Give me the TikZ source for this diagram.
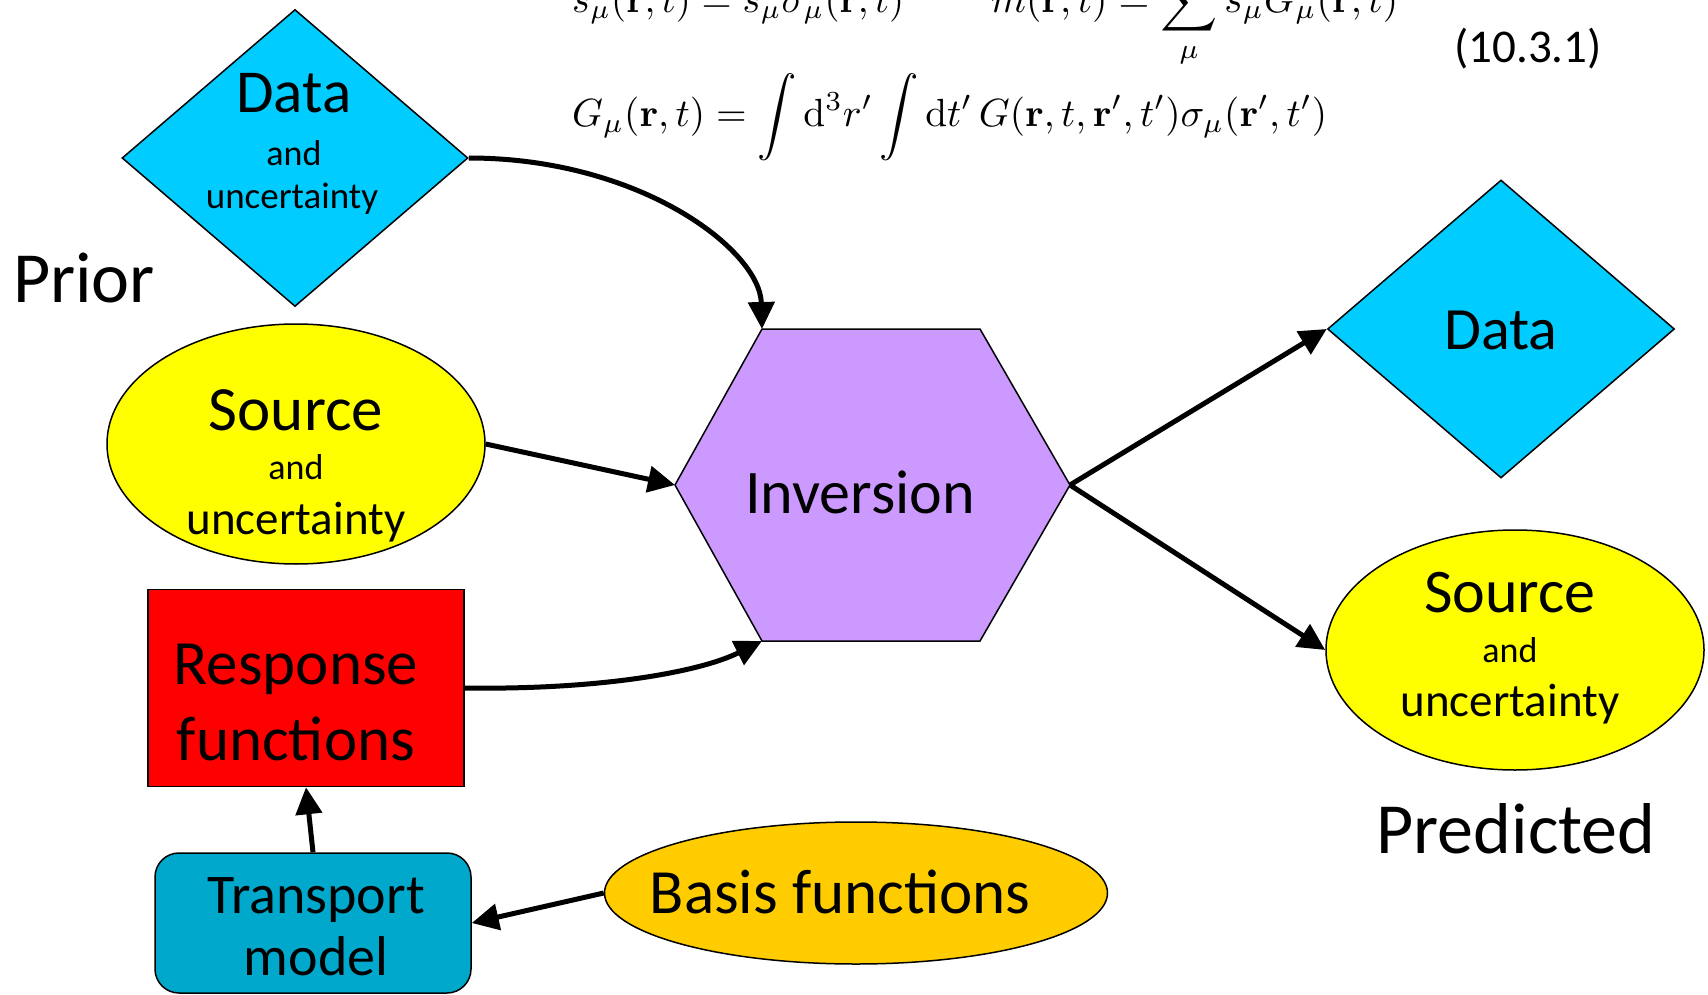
\documentclass[tikz,border=0pt]{standalone}
\usepackage[no-math]{fontspec}
\setmainfont{Carlito}
\usetikzlibrary{shapes.geometric,arrows.meta,calc}
\definecolor{dataC}{HTML}{00CCFF}
\definecolor{srcC}{HTML}{FFFF00}
\definecolor{respC}{HTML}{FF0000}
\definecolor{invC}{HTML}{CC99FF}
\definecolor{transC}{HTML}{00A8CC}
\definecolor{basisC}{HTML}{FFCC00}
\newcommand{\fsz}[1]{\fontsize{#1}{#1}\selectfont}
\begin{document}
\begin{tikzpicture}[x=1pt,y=-1pt,
  shapeline/.style={draw=black,line width=1.5pt,inner sep=0pt},
  conn/.style={line width=5pt,-{Triangle[length=27pt,width=26pt]}},
  txt/.style={anchor=base,inner sep=0pt},
  eqn/.style={anchor=base west,inner sep=0pt},
]
\useasboundingbox (0,0) rectangle (1708,995);
\clip (0,0) rectangle (1708,995);

% equations
\node[eqn] (eq1a) at (572,13) {\resizebox{332pt}{!}{$s_\mu(\mathbf{r},t)=s_\mu\sigma_\mu(\mathbf{r},t)$}};
\node[eqn] (eq1b) at (991,13) {\resizebox{407pt}{!}{$m(\mathbf{r},t)=\displaystyle\sum_{\mu}s_\mu G_\mu(\mathbf{r},t)$}};
\node[eqn] (eq2) at (572,127) {\resizebox{755pt}{!}{$\displaystyle G_\mu(\mathbf{r},t)=\int\mathrm{d}^3r'\int\mathrm{d}t'\,G(\mathbf{r},t,\mathbf{r}',t')\sigma_\mu(\mathbf{r}',t')$}};
\node[txt,font=\fsz{47}] (eqnum) at (1528,63) {(10.3.1)};

% shapes
\node[diamond,shapeline,fill=dataC,minimum width=346pt,minimum height=297pt] (dL) at (295,158) {};
\node[ellipse,shapeline,fill=srcC,minimum width=378pt,minimum height=240pt] (sL) at (296,444) {};
\node[rectangle,shapeline,fill=respC,minimum width=316pt,minimum height=197pt] (resp) at (306,688) {};
\node[rectangle,rounded corners=24pt,shapeline,fill=transC,minimum width=316pt,minimum height=140pt] (trans) at (313,923) {};
\node[ellipse,shapeline,fill=basisC,minimum width=503pt,minimum height=142pt] (basis) at (856,893) {};
\node[diamond,shapeline,fill=dataC,minimum width=347pt,minimum height=298pt] (dR) at (1501,329) {};
\node[ellipse,shapeline,fill=srcC,minimum width=378pt,minimum height=240pt] (sR) at (1515,650) {};

\coordinate (hL) at (675,485);
\coordinate (hTL) at (762,329);
\coordinate (hTR) at (980,329);
\coordinate (hR) at (1070,485);
\coordinate (hBR) at (980,641);
\coordinate (hBL) at (762,641);
\draw[line width=1.5pt,fill=invC] (hL) -- (hTL) -- (hTR) -- (hR) -- (hBR) -- (hBL) -- cycle;

% texts
\node[txt,font=\fsz{61}] (tDL1) at (294,113) {Data};
\node[txt,font=\fsz{36}] (tDL2) at (294,166) {and};
\node[txt,font=\fsz{37}] (tDL3) at (292,209) {uncertainty};
\node[txt,font=\fsz{63}] (tSL1) at (296,430) {Source};
\node[txt,font=\fsz{36}] (tSL2) at (296,479) {and};
\node[txt,font=\fsz{47}] (tSL3) at (296,534) {uncertainty};
\node[txt,font=\fsz{62}] (tInv) at (860,513) {Inversion};
\node[txt,font=\fsz{60}] (tDR) at (1501,349) {Data};
\node[txt,font=\fsz{62}] (tSR1) at (1510,612) {Source};
\node[txt,font=\fsz{36}] (tSR2) at (1510,662) {and};
\node[txt,font=\fsz{47}] (tSR3) at (1510,716) {uncertainty};
\node[txt,font=\fsz{63}] (tR1) at (296,684) {Response};
\node[txt,font=\fsz{63}] (tR2) at (296,760) {functions};
\node[txt,font=\fsz{56}] (tT1) at (316,913) {Transport};
\node[txt,font=\fsz{56}] (tT2) at (316,975) {model};
\node[txt,font=\fsz{63}] (tB) at (840,913) {Basis functions};
\node[txt,font=\fsz{72}] (prior) at (84,302) {Prior};
\node[txt,font=\fsz{72}] (pred) at (1516,853) {Predicted};

% connectors
\draw[conn] (dL.east) .. controls (640,158) and (760,250) .. (hTL);
\draw[conn] (sL.east) -- (hL);
\draw[conn] (resp.east) .. controls (600,690) and (700,672) .. (hBL);
\draw[conn] (hR) -- (dR.west);
\draw[conn] (hR) -- (sR.west);
\draw[conn] (trans.north) -- (resp.south);
\draw[conn] (basis.west) -- (trans.east);
\end{tikzpicture}
\end{document}
